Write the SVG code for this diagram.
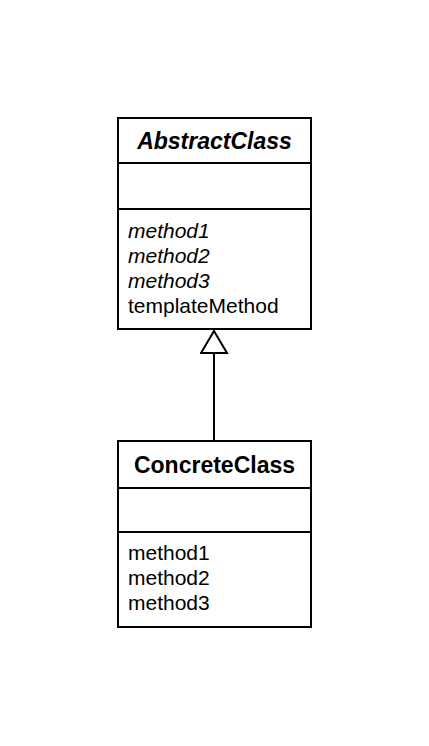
<svg xmlns="http://www.w3.org/2000/svg" width="429" height="746" viewBox="0 0 429 746">
<style>
.box{fill:#fff;stroke:#000;stroke-width:2}
.sep{stroke:#000;stroke-width:2}
text{font-family:"Liberation Sans",Arial,sans-serif;font-size:21px;fill:#000}
.title{font-weight:bold;font-size:23px;text-anchor:middle}
.it{font-style:italic}
.conn{stroke:#000;stroke-width:2;fill:none}
</style>
<defs>
<marker id="gen" markerWidth="30" markerHeight="26" refX="14" refY="2" orient="0" markerUnits="userSpaceOnUse">
<polygon points="14,2 27,24 1,24" fill="#fff" stroke="#000" stroke-width="2"/>
</marker>
</defs>
<rect width="429" height="746" fill="#fff"/>
<g id="connectors">
<line class="conn" x1="214" y1="441" x2="214" y2="331" marker-end="url(#gen)"/>
</g>
<g id="AbstractClass">
<rect class="box" x="118" y="118" width="193" height="211"/>
<line class="sep" x1="118" y1="163" x2="311" y2="163"/>
<line class="sep" x1="118" y1="209" x2="311" y2="209"/>
<text class="title it" x="214.5" y="149">AbstractClass</text>
<text class="it" x="128" y="238">method1</text>
<text class="it" x="128" y="263">method2</text>
<text class="it" x="128" y="288">method3</text>
<text x="128" y="313">templateMethod</text>
</g>
<g id="ConcreteClass">
<rect class="box" x="118" y="441" width="193" height="186"/>
<line class="sep" x1="118" y1="488" x2="311" y2="488"/>
<line class="sep" x1="118" y1="532" x2="311" y2="532"/>
<text class="title" x="214.5" y="473">ConcreteClass</text>
<text x="128" y="560">method1</text>
<text x="128" y="585">method2</text>
<text x="128" y="610">method3</text>
</g>
</svg>
